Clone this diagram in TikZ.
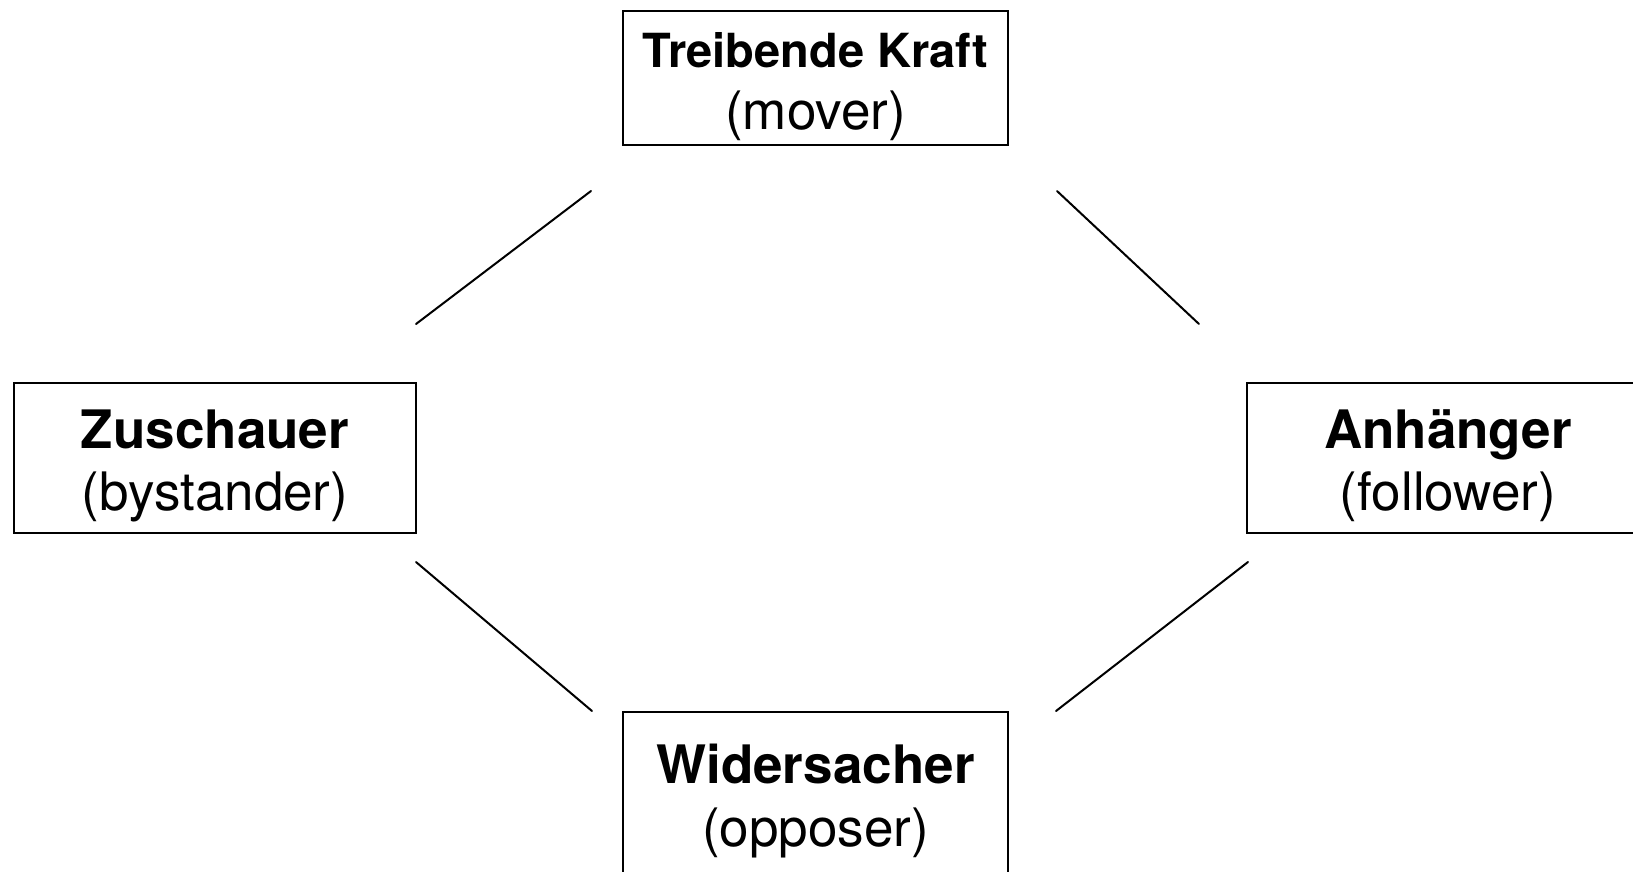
\documentclass[tikz,border=0pt]{standalone}
\usepackage{fontspec}
\setmainfont{TeX Gyre Heros}
\begin{document}
\begin{tikzpicture}[x=1pt,y=-1pt,
  box/.style={draw=black,line width=2pt,inner sep=0pt},
  big/.style={inner sep=0pt,anchor=base,font=\fontsize{53}{62}\selectfont},
  bigb/.style={inner sep=0pt,anchor=base,font=\fontsize{53}{62}\selectfont\bfseries},
  link/.style={line width=2pt,line cap=round}]
\clip (0,0) rectangle (1633,871);
\fill[white] (0,0) rectangle (1633,871);
% boxes
\node[box,minimum width=385pt,minimum height=134pt] (mover) at (815.5,78) {};
\node[box,minimum width=402pt,minimum height=150pt] (bystander) at (215,458) {};
\node[box,minimum width=402pt,minimum height=150pt] (follower) at (1448,458) {};
\node[box,minimum width=385pt,minimum height=190pt] (opposer) at (815.5,807) {};
% texts
\node[bigb,font=\fontsize{47}{56}\selectfont\bfseries] (moverA) at (815.5,67) {Treibende Kraft};
\node[big] (moverB) at (815.5,129) {(mover)};
\node[bigb] (bystanderA) at (215,448) {Zuschauer};
\node[big] (bystanderB) at (215,510) {(bystander)};
\node[bigb] (followerA) at (1448,448) {Anhänger};
\node[big] (followerB) at (1448,510) {(follower)};
\node[bigb] (opposerA) at (815.5,783) {Widersacher};
\node[big] (opposerB) at (815.5,846) {(opposer)};
% connectors
\coordinate (a1) at (416,324); \coordinate (a2) at (591,191);
\coordinate (b1) at (1057,191); \coordinate (b2) at (1199,324);
\coordinate (c1) at (416,562); \coordinate (c2) at (592,711);
\coordinate (d1) at (1248,562); \coordinate (d2) at (1056,711);
\draw[link] (a1) -- (a2);
\draw[link] (b1) -- (b2);
\draw[link] (c1) -- (c2);
\draw[link] (d1) -- (d2);
\end{tikzpicture}
\end{document}
